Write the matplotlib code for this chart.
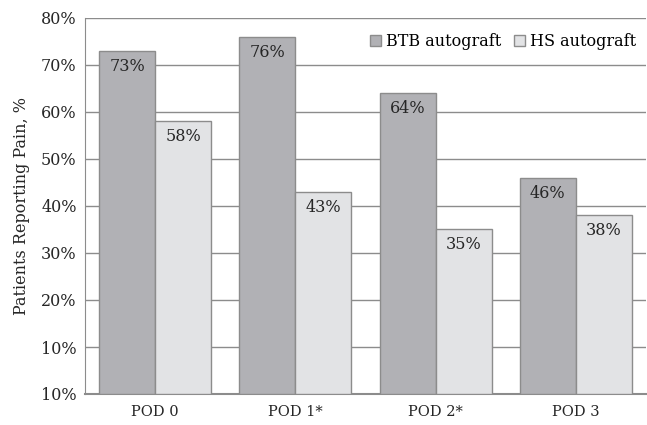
import matplotlib
matplotlib.use("Agg")
import matplotlib.pyplot as plt
import numpy as np

categories = ["POD 0", "POD 1*", "POD 2*", "POD 3"]
btb = [73, 76, 64, 46]
hs = [58, 43, 35, 38]
series_names = ["BTB autograft", "HS autograft"]
ytick_vals = [0, 10, 20, 30, 40, 50, 60, 70, 80]
ytick_labels = ["10%", "10%", "20%", "30%", "40%", "50%", "60%", "70%", "80%"]

plt.rcParams['font.family'] = ['DejaVu Serif']
fig = plt.figure(figsize=(6.47, 4.25), dpi=100)
ax = fig.add_axes([85/647, 1-394/425, (646-85)/647, (394-18)/425])

x = np.arange(len(categories))
w = 0.4
dark = "#b1b1b5"
light = "#e2e3e5"
edge = "#8c8c8c"
txt = "#262626"
b1 = ax.bar(x - w/2, btb, w, color=dark, edgecolor=edge, linewidth=1.0, zorder=3, label=series_names[0])
b2 = ax.bar(x + w/2, hs, w, color=light, edgecolor=edge, linewidth=1.0, zorder=3, label=series_names[1])

for bars, vals in ((b1, btb), (b2, hs)):
    for r, v in zip(bars, vals):
        ax.annotate(f"{v}%", (r.get_x() + r.get_width()/2, v), xytext=(0, -5),
                    textcoords="offset points", ha="center", va="top",
                    fontsize=11.5, color=txt, zorder=4)

ax.set_xlim(-0.5, len(categories) - 0.5)
ax.set_ylim(0, 80)
ax.set_yticks(ytick_vals)
ax.set_yticklabels(ytick_labels, fontsize=11.5, color=txt)
ax.set_xticks(x)
ax.set_xticklabels(categories, fontsize=10.5, color=txt)
ax.tick_params(axis="y", length=0, pad=6)
ax.tick_params(axis="x", length=0, pad=8)
ax.yaxis.grid(True, color="#8c8c8c", linewidth=1.0, zorder=0)
ax.set_axisbelow(True)
for s in ["top", "right"]:
    ax.spines[s].set_visible(False)
ax.spines["left"].set_color("#8c8c8c")
ax.spines["bottom"].set_color("#8c8c8c")
ax.spines["bottom"].set_linewidth(1.5)
ax.set_ylabel("Patients Reporting Pain, %", fontsize=11.5, color=txt, labelpad=8)

ax.legend(loc="upper right", bbox_to_anchor=(1.0, 0.985), ncol=2, frameon=False, fontsize=11.5,
          handlelength=0.7, handleheight=0.7, handletextpad=0.3, columnspacing=0.8, borderaxespad=0.2)

fig.savefig("out.png", dpi=100)
